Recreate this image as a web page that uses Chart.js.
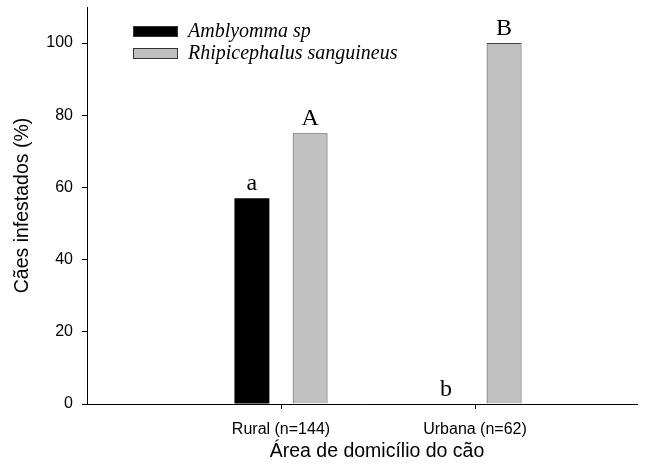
<!DOCTYPE html>
<html>
<head>
<meta charset="utf-8">
<script src="https://cdn.jsdelivr.net/npm/chart.js@4/dist/chart.umd.min.js"></script>
<style>
  html, body { margin: 0; padding: 0; background: #fff; }
  #wrap { width: 657px; height: 470px; }
</style>
</head>
<body>
<div id="wrap"><canvas id="chart" width="657" height="470"></canvas></div>
<script>
// data
const categories = ["Rural (n=144)", "Urbana (n=62)"];
const amblyomma = [57, 0];
const rhipicephalus = [75, 100];
const amblyommaLetters = ["a", "b"];
const rhipicephalusLetters = ["A", "B"];
const yTicks = [0, 20, 40, 60, 80, 100];

const seriesNames = ["Amblyomma sp", "Rhipicephalus sanguineus"];
const xTitle = "Área de domicílio do cão";

const sans = "'Liberation Sans', Arial, sans-serif";
const serif = "'Liberation Serif', 'Times New Roman', serif";

// letters above the bars
const letterPlugin = {
    id: "letters",
    afterDatasetsDraw(chart) {
        const ctx = chart.ctx;
        const sets = [amblyommaLetters, rhipicephalusLetters];
        ctx.save();
        ctx.font = "24px " + serif;
        ctx.fillStyle = "#000";
        ctx.textAlign = "center";
        ctx.textBaseline = "alphabetic";
        sets.forEach((letters, di) => {
            const meta = chart.getDatasetMeta(di);
            meta.data.forEach((bar, i) => {
                ctx.fillText(letters[i], bar.x, bar.y - 8);
            });
        });
        ctx.restore();
    }
};

// legend inside the plot (top left) + x axis title, which sits a bit right of centre
const legendPlugin = {
    id: "insideLegend",
    afterDraw(chart) {
        const ctx = chart.ctx;
        ctx.save();
        ctx.font = "italic 20px " + serif;
        ctx.textBaseline = "middle";
        chart.data.datasets.forEach((ds, i) => {
            const y = 31 + i * 22;
            ctx.fillStyle = ds.backgroundColor;
            ctx.fillRect(133, y - 5, 45, 11);
            ctx.strokeStyle = "#333";
            ctx.lineWidth = 1;
            ctx.strokeRect(133.5, y - 4.5, 44, 10);
            ctx.fillStyle = "#000";
            ctx.fillText(ds.label, 188, y + 1);
        });

        ctx.font = "19.5px " + sans;
        ctx.textAlign = "center";
        ctx.fillText(xTitle, 377, 452);
        ctx.restore();
    }
};

const ctx = document.getElementById("chart").getContext("2d");

new Chart(ctx, {
    type: "bar",
    data: {
        datasets: [{
            label: seriesNames[0],
            data: amblyomma.map((v, i) => ({ x: i, y: v })),
            backgroundColor: "#000000",
            borderColor: "#000000",
            borderWidth: 0
        }, {
            label: seriesNames[1],
            data: rhipicephalus.map((v, i) => ({ x: i, y: v })),
            backgroundColor: "#c0c0c0",
            borderColor: "#444444",
            borderWidth: 1
        }]
    },
    options: {
        responsive: false,
        animation: false,
        categoryPercentage: 0.6,
        barPercentage: 0.6,
        layout: { padding: { top: 7, right: 20, left: 0, bottom: 0 } },
        plugins: {
            legend: { display: false },
            tooltip: { enabled: false }
        },
        scales: {
            x: {
                type: "linear",
                offset: false,
                min: -1,
                max: 1.835,
                afterBuildTicks(scale) {
                    scale.ticks = categories.map((c, i) => ({ value: i }));
                },
                afterFit(scale) { scale.height = 66; },
                ticks: {
                    callback: (v) => categories[v],
                    color: "#000",
                    font: { family: sans, size: 16 },
                    padding: 11,
                    maxRotation: 0
                },
                grid: { offset: false, drawOnChartArea: false, tickLength: 5, color: "#000" },
                border: { color: "#000", width: 1 }
            },
            y: {
                min: 0,
                max: 110,
                afterBuildTicks(scale) {
                    scale.ticks = yTicks.map(v => ({ value: v }));
                },
                afterFit(scale) {
                    scale.width = 87;
                    scale.paddingTop = 0;
                },
                ticks: {
                    color: "#000",
                    font: { family: sans, size: 16 },
                    padding: 9
                },
                grid: { drawOnChartArea: false, tickLength: 5, color: "#000" },
                border: { color: "#000", width: 1 },
                title: {
                    display: true,
                    text: "Cães infestados (%)",
                    color: "#000",
                    font: { family: sans, size: 19.5 },
                    padding: { top: 11, bottom: 0 }
                }
            }
        }
    },
    plugins: [letterPlugin, legendPlugin]
});
</script>
</body>
</html>
